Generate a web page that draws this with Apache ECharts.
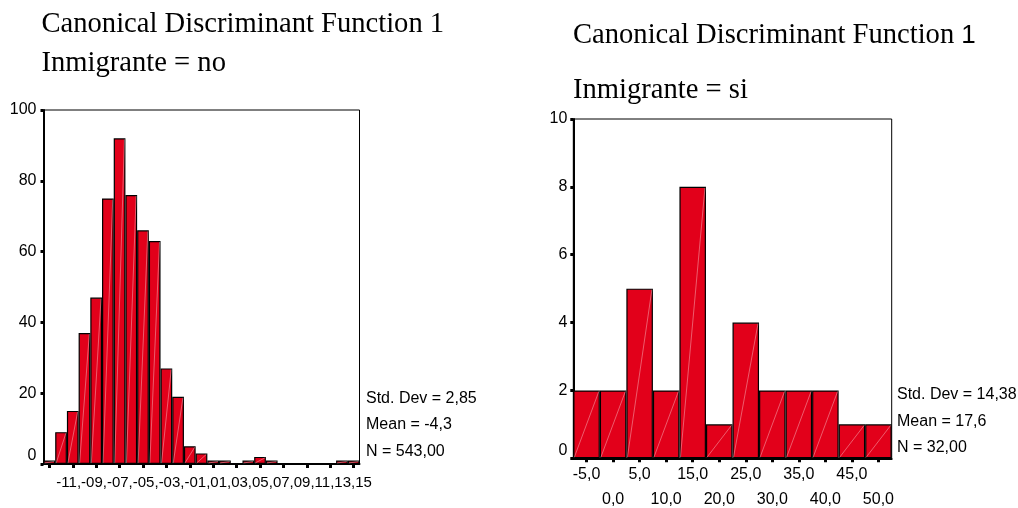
<!DOCTYPE html>
<html>
<head>
<meta charset="utf-8">
<script src="https://cdn.jsdelivr.net/npm/echarts@6/dist/echarts.min.js"></script>
<style>
html,body{margin:0;padding:0;background:#fff;}
#c{width:1018px;height:508px;}
</style>
</head>
<body>
<div id="c"></div>
<script>
// ---- data ----
const leftCenters = [-11,-10,-9,-8,-7,-6,-5,-4,-3,-2,-1,0,1,2,3,4,5,6,7,8,9,10,11,12,13,14,15];
const leftCounts  = [1,9,15,37,47,75,92,76,66,63,27,19,5,3,1,1,0,1,2,1,0,0,0,0,0,1,1];
const leftTickLabels = ['-11,','-09,','-07,','-05,','-03,','-01,','01,','03,','05,','07,','09,','11,','13,','15'];
const leftYTicks = [0,20,40,60,80,100];

const rightCenters = [-5,0,5,10,15,20,25,30,35,40,45,50];
const rightCounts  = [2,2,5,2,8,1,4,2,2,2,1,1];
const rightTickLabels = ['-5,0','0,0','5,0','10,0','15,0','20,0','25,0','30,0','35,0','40,0','45,0','50,0'];
const rightYTicks = [0,2,4,6,8,10];

const leftStats  = ['Std. Dev = 2,85','Mean = -4,3','N = 543,00'];
const rightStats = ['Std. Dev = 14,38','Mean = 17,6','N = 32,00'];

const RED = '#E2001A';
const SANS = '"Liberation Sans", Arial, sans-serif';
const SERIF = '"Liberation Serif", "Times New Roman", serif';

const chart = echarts.init(document.getElementById('c'), null, {renderer:'canvas'});

function yAxisCfg(grid, max, interval, margin, zpad){
  return {
    type:'value', gridIndex:grid, min:0, max:max, interval:interval,
    splitLine:{show:false},
    axisLine:{show:true, lineStyle:{color:'#000', width:2}},
    axisTick:{show:true, length:3, lineStyle:{color:'#000', width:3}},
    axisLabel:{
      color:'#000', fontSize:16, fontFamily:SANS, margin:margin,
      formatter:function(v){ return v===0 ? '{z|0}' : String(v); },
      rich:{z:{fontSize:16, fontFamily:SANS, color:'#000', padding:[0,0,zpad,0]}}
    }
  };
}

function diagSeries(xi, yi, counts){
  return {
    type:'custom', xAxisIndex:xi, yAxisIndex:yi, z:5, silent:true,
    data: counts.map(function(v,i){ return [i, v]; }),
    renderItem:function(params, api){
      const v = api.value(1);
      if (!v) return null;
      const c = api.coord([api.value(0), v]);
      const b = api.coord([api.value(0), 0]);
      const w = api.size([1,0])[0];
      return {
        type:'line',
        shape:{x1:c[0]-w/2+1, y1:b[1]-1, x2:c[0]+w/2-1, y2:c[1]+1},
        style:{stroke:'rgba(255,255,255,0.45)', lineWidth:0.8}
      };
    }
  };
}

const option = {
  animation:false,
  backgroundColor:'#fff',
  grid:[
    {left:43.5, top:110, width:316, height:354, show:true, borderColor:'#000', borderWidth:1, containLabel:false, outerBoundsMode:'none'},
    {left:573.3, top:119, width:318.4, height:339.3, show:true, borderColor:'#000', borderWidth:1, containLabel:false, outerBoundsMode:'none'}
  ],
  xAxis:[
    {
      type:'category', gridIndex:0, data:leftCenters.map(String), boundaryGap:true,
      axisLine:{show:true, lineStyle:{color:'#000', width:2}},
      axisTick:{show:true, alignWithLabel:true, interval:1, length:4, lineStyle:{color:'#000', width:3}},
      axisLabel:{
        interval:1, color:'#000', fontSize:15, fontFamily:SANS, margin:11,
        align:'left', padding:[0,0,0,7],
        // SPSS draws these tick labels run together as one continuous row
        formatter:function(v, i){ return i === 0 ? leftTickLabels.join('') : ''; }
      }
    },
    {
      type:'category', gridIndex:1, data:rightCenters.map(String), boundaryGap:true,
      axisLine:{show:true, lineStyle:{color:'#000', width:2}},
      axisTick:{show:true, alignWithLabel:true, interval:0, length:4, lineStyle:{color:'#000', width:3}},
      axisLabel:{
        interval:0, color:'#000', fontSize:16, fontFamily:SANS, margin:4, lineHeight:25,
        formatter:function(v, i){ return (i % 2 === 1 ? '\n' : '') + rightTickLabels[i]; }
      }
    }
  ],
  yAxis:[
    yAxisCfg(0, 100, 20, 7, 16),
    yAxisCfg(1, 10, 2, 6, 16)
  ],
  series:[
    {
      type:'bar', xAxisIndex:0, yAxisIndex:0, data:leftCounts, barCategoryGap:'0%',
      itemStyle:{color:RED, borderColor:'#000', borderWidth:1.2}
    },
    diagSeries(0, 0, leftCounts),
    {
      type:'bar', xAxisIndex:1, yAxisIndex:1, data:rightCounts, barCategoryGap:'0%',
      itemStyle:{color:RED, borderColor:'#000', borderWidth:1.2}
    },
    diagSeries(1, 1, rightCounts)
  ],
  graphic:[
    {type:'text', left:41.5, top:10, style:{text:'Canonical Discriminant Function 1', font:'28.6px '+SERIF, fill:'#000'}},
    {type:'text', left:41.5, top:49, style:{text:'Inmigrante = no', font:'28.6px '+SERIF, fill:'#000'}},
    {type:'text', left:573, top:21, style:{
      text:'{a|Canonical Discriminant Function }{b|1}',
      rich:{a:{font:'28.6px '+SERIF, fill:'#000'}, b:{font:'26px '+SANS, fill:'#000'}}
    }},
    {type:'text', left:573, top:76, style:{text:'Inmigrante = si', font:'28.6px '+SERIF, fill:'#000'}},

    {type:'text', x:366, y:399, style:{text:leftStats[0], font:'16px '+SANS, fill:'#000', verticalAlign:'middle'}},
    {type:'text', x:366, y:425, style:{text:leftStats[1], font:'16px '+SANS, fill:'#000', verticalAlign:'middle'}},
    {type:'text', x:366, y:452, style:{text:leftStats[2], font:'16px '+SANS, fill:'#000', verticalAlign:'middle'}},
    {type:'text', x:897, y:395, style:{text:rightStats[0], font:'16px '+SANS, fill:'#000', verticalAlign:'middle'}},
    {type:'text', x:897, y:422, style:{text:rightStats[1], font:'16px '+SANS, fill:'#000', verticalAlign:'middle'}},
    {type:'text', x:897, y:448, style:{text:rightStats[2], font:'16px '+SANS, fill:'#000', verticalAlign:'middle'}}
  ]
};
chart.setOption(option);
</script>
</body>
</html>
